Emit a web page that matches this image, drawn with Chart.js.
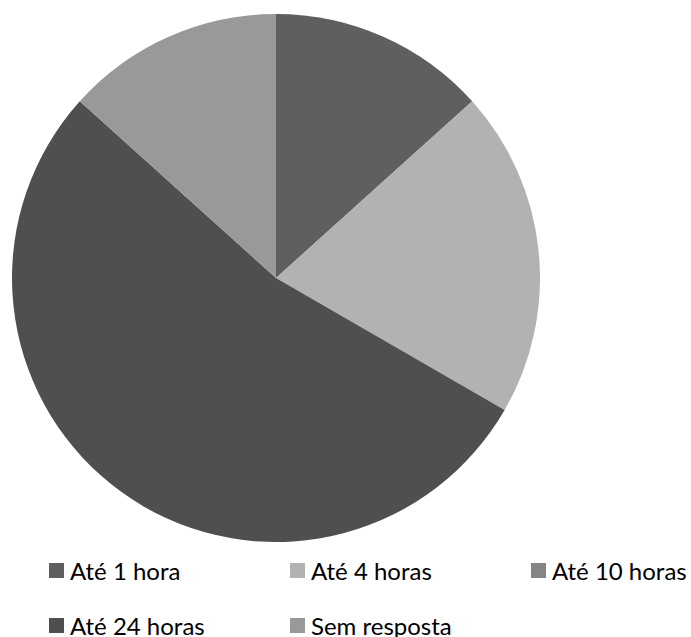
<!DOCTYPE html>
<html>
<head>
<meta charset="utf-8">
<script src="https://cdn.jsdelivr.net/npm/chart.js@4"></script>
<style>
  html, body { margin: 0; padding: 0; background: #fff; width: 691px; height: 637px; overflow: hidden; }
  #wrap { position: absolute; left: 12px; top: 14px; width: 528px; height: 528px; }
  .leg { position: absolute; font-family: Lato, "Open Sans", sans-serif; font-size: 24px; font-weight: 400; color: #000; white-space: nowrap; line-height: 1; }
  .sw { position: absolute; width: 15px; height: 15px; }
  .lt { position: absolute; }
</style>
</head>
<body>
<div id="wrap"><canvas id="c" width="528" height="528"></canvas></div>
<div id="legend"></div>
<script>
const categories = ["Até 1 hora", "Até 4 horas", "Até 10 horas", "Até 24 horas", "Sem resposta"];
const values = [2, 3, 0, 8, 2];
const colors = ["#5f5f5f", "#b2b2b2", "#858585", "#4f4f4f", "#999999"];

new Chart(document.getElementById('c'), {
  type: 'pie',
  data: {
    labels: categories,
    datasets: [{ data: values, backgroundColor: colors, borderWidth: 0 }]
  },
  options: {
    responsive: false,
    animation: false,
    plugins: { legend: { display: false }, tooltip: { enabled: false } },
    layout: { padding: 0 }
  }
});

// Legend laid out in columns like the original
const colX = [49, 290, 531];
const rowY = [563, 618];
const leg = document.getElementById('legend');
categories.forEach((name, i) => {
  const col = i % 3, row = Math.floor(i / 3);
  const d = document.createElement('div');
  d.className = 'leg';
  d.style.left = colX[col] + 'px';
  d.style.top = rowY[row] + 'px';
  const sw = document.createElement('div');
  sw.className = 'sw';
  sw.style.background = colors[i];
  sw.style.left = '0px';
  sw.style.top = '0px';
  const t = document.createElement('div');
  t.className = 'lt';
  t.textContent = name;
  t.style.left = '21px';
  t.style.top = '-4px';
  d.appendChild(sw);
  d.appendChild(t);
  leg.appendChild(d);
});
</script>
</body>
</html>
